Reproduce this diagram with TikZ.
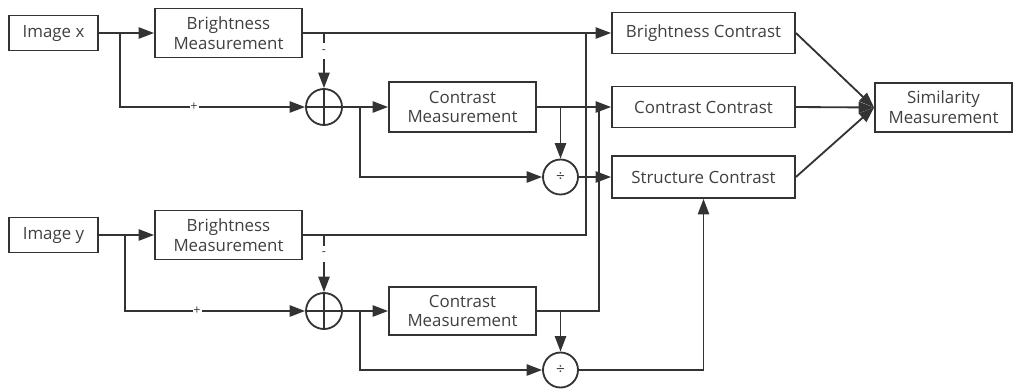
\documentclass[tikz,border=0pt]{standalone}
\usepackage{fontspec}
\setmainfont{Open Sans}
\usepackage{tikz}
\usepackage{xcolor}
\usetikzlibrary{arrows.meta,positioning,calc}
\definecolor{ink}{HTML}{333333}
\definecolor{txt}{HTML}{404040}
\newcommand{\px}{0.025cm}
\tikzset{
  block/.style={draw=ink,fill=white,line width=1.3pt,
                align=center,inner sep=0pt,text=txt,
                font=\fontsize{12}{14}\selectfont},
  inbox/.style={block,minimum width=89*\px,minimum height=35*\px},
  measbox/.style={block,minimum width=147*\px,minimum height=49*\px},
  cmpbox/.style={block,minimum width=183*\px,minimum height=41*\px},
  sumnode/.style={draw=ink,circle,line width=1.3pt,minimum size=36*\px,inner sep=0pt,
                  path picture={\draw[ink,line width=1.3pt]
                    (path picture bounding box.north) -- (path picture bounding box.south)
                    (path picture bounding box.west) -- (path picture bounding box.east);}},
  divnode/.style={draw=ink,circle,line width=1.3pt,minimum size=35*\px,inner sep=0pt,
                  text=txt,font=\fontsize{11}{11}\selectfont},
  sign/.style={fill=white,inner sep=0pt,minimum width=9*\px,minimum height=16*\px,
               text=txt,font=\fontsize{9}{9}\selectfont},
  arr/.style={-{Triangle[length=11pt,width=8pt]},line width=1.3pt,draw=ink},
  wire/.style={line width=1.3pt,draw=ink}
}

\begin{document}
\begin{tikzpicture}[x=\px,y=-\px]
  \useasboundingbox (0,0) rectangle (1013,390);

  % image x branch
  \node[inbox] (imgx) at (53.5,33) {Image x};
  \node[measbox] (bmx) at (228.5,33) {Brightness\\Measurement};
  \node[sumnode] (addx) at (324,107) {};
  \node[measbox,minimum height=50*\px] (cmx) at (462.5,107) {Contrast\\Measurement};
  \node[divnode] (divx) at (560.5,177) {÷};

  % image y branch
  \node[inbox] (imgy) at (53.5,235) {Image y};
  \node[measbox] (bmy) at (228.5,235) {Brightness\\Measurement};
  \node[sumnode] (addy) at (324,311) {};
  \node[measbox,minimum height=48*\px] (cmy) at (462.5,311) {Contrast\\Measurement};
  \node[divnode] (divy) at (560.5,370) {÷};

  % comparisons
  \node[cmpbox] (bc) at (703.5,33) {Brightness Contrast};
  \node[cmpbox] (cc) at (703.5,107) {Contrast Contrast};
  \node[cmpbox,minimum height=42*\px] (sc) at (703.5,177) {Structure Contrast};
  \node[block,minimum width=137*\px,minimum height=49*\px] (sim) at (943.5,107.5) {Similarity\\Measurement};

  \coordinate (jx) at (120,33);
  \coordinate (kx) at (360,107);
  \coordinate (jy) at (125,235);
  \coordinate (ky) at (360,311);
  \coordinate (bcjoin) at (586,33);
  \coordinate (ccjoin) at (599,107);

  % x path
  \draw[arr] (imgx) -- (bmx);
  \draw[arr] (jx) |- node[sign,pos=0.7] {+} (addx);
  \draw[arr] (bmx) -- (bc);
  \draw[arr] (bmx.east -| addx) -- node[sign,pos=0.33] {-} (addx);
  \draw[arr] (addx) -- (cmx);
  \draw[arr] (kx) |- (divx);
  \draw[arr] (cmx) -- (cc);
  \draw[arr] (cmx.east -| divx) -- (divx);
  \draw[arr] (divx) -- (sc);

  % y path
  \draw[arr] (imgy) -- (bmy);
  \draw[arr] (jy) |- node[sign,pos=0.7] {+} (addy);
  \draw[wire] (bmy) -| (bcjoin);
  \draw[arr] (bmy.east -| addy) -- node[sign,pos=0.33] {-} (addy);
  \draw[arr] (addy) -- (cmy);
  \draw[arr] (ky) |- (divy);
  \draw[wire] (cmy) -| (ccjoin);
  \draw[arr] (cmy.east -| divy) -- (divy);
  \draw[arr] (divy) -| (sc);

  % to similarity
  \draw[arr] (bc.east) -- (sim.west);
  \draw[arr] (cc.east) -- (sim.west);
  \draw[arr] (sc.east) -- (sim.west);
\end{tikzpicture}
\end{document}
